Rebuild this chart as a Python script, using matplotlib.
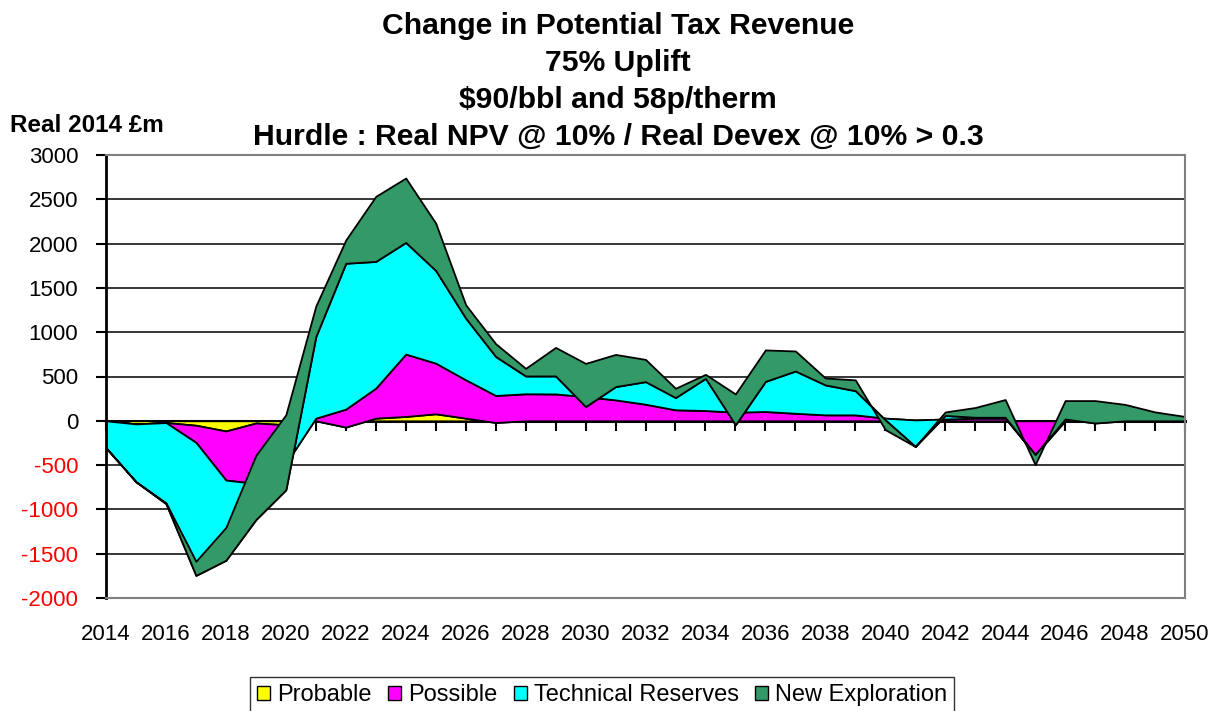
import numpy as np
import matplotlib.pyplot as plt
from matplotlib.patches import Patch

plt.rcParams['font.family'] = ['Liberation Sans', 'DejaVu Sans']

# Series values (Real 2014 £m), stacked in this order
years = np.arange(2014, 2051)
probable = [0, -35, -20, -50, -115, -25, -45, 0, -71, 30, 49, 79, 30, -19, 0, 0, 0, 0, 0,
            0, 0, 0, 0, 0, 0, 0, 0, 0, 0, 0, 0, 0, 0, 0, 0, 0, 0]
possible = [0, 0, 0, -194, -554, -683, -438, 30, 203, 339, 704, 572, 433, 305, 305, 303, 273,
            236, 187, 124, 116, 97, 105, 85, 67, 67, 30, 10, 20, 30, 30, -382, 0, 0, 0, 0, 0]
technical = [-305, -653, -915, -1501, -905, -407, -296, 920, 1646, 1430, 1260, 1046, 696, 440,
             201, 203, -112, 150, 255, 138, 363, -142, 340, 477, 338, 273, -20, -300, 40, 10,
             10, 0, 20, -25, 0, 0, 0]
new_expl = [0, 0, 10, 160, 371, 725, 847, 345, 263, 734, 727, 534, 151, 144, 86, 322, 487,
            363, 251, 105, 45, 348, 355, 226, 78, 122, -110, 0, 40, 110, 200, -113, 208, 253,
            185, 100, 49]

series = [probable, possible, technical, new_expl]
names = ['Probable', 'Possible', 'Technical Reserves', 'New Exploration']
colors = ['#FFFF00', '#FF00FF', '#00FFFF', '#339966']
y_ticks = list(range(-2000, 3001, 500))

fig = plt.figure(figsize=(12.18, 7.11), dpi=100)
ax = fig.add_axes([106 / 1218, 1 - 598 / 711, (1185 - 106) / 1218, (598 - 155) / 711])

# stacked areas, each drawn between the previous running total and its own
lower = np.zeros(len(years))
for vals, col in zip(series, colors):
    upper = lower + np.array(vals)
    ax.fill_between(years, lower, upper, facecolor=col, edgecolor='black', linewidth=1.3,
                    zorder=2)
    lower = upper

ax.set_xlim(2014, 2050)
ax.set_ylim(-2000, 3000)
ax.set_yticks(y_ticks)
ax.set_yticklabels([str(v) for v in y_ticks])
for lab, v in zip(ax.get_yticklabels(), y_ticks):
    lab.set_color('red' if v < 0 else 'black')
ax.yaxis.grid(True, color='black', linewidth=1.1, zorder=1)
ax.set_axisbelow(True)

ax.set_xticks(years[::2])
ax.tick_params(axis='x', length=0, pad=19, labelsize=16)
ax.tick_params(axis='y', direction='out', length=7, width=1.5, pad=13, labelsize=16)

for side in ['top', 'right', 'bottom']:
    ax.spines[side].set_color('#808080')
    ax.spines[side].set_linewidth(1.5)
ax.spines['left'].set_linewidth(2)

# category axis crossing at zero, with a tick for every year
zero_axis = ax.secondary_xaxis(0.4)
zero_axis.set_xticks(years)
zero_axis.tick_params(direction='out', length=7, width=1.5, labelbottom=False)
zero_axis.spines['bottom'].set_linewidth(2.2)

title = ['Change in Potential Tax Revenue', '75% Uplift', '$90/bbl and 58p/therm',
         'Hurdle : Real NPV @ 10% / Real Devex @ 10% > 0.3']
for i, line in enumerate(title):
    fig.text(618 / 1218, 1 - (26 + 37 * i) / 711, line, ha='center', va='center',
             fontsize=21.7, fontweight='bold')
fig.text(10 / 1218, 1 - 125 / 711, 'Real 2014 £m', ha='left', va='center',
         fontsize=17.5, fontweight='bold')

handles = [Patch(facecolor=c, edgecolor='black', linewidth=1) for c in colors]
fig.legend(handles, names, loc='upper center', bbox_to_anchor=(602 / 1218, 1 - 677 / 711),
           ncol=4, fontsize=17, frameon=True, fancybox=False, edgecolor='black',
           handlelength=0.55, handleheight=0.55, handletextpad=0.3, columnspacing=0.7,
           borderpad=0.3, borderaxespad=0)

fig.savefig('out.png', dpi=100)
